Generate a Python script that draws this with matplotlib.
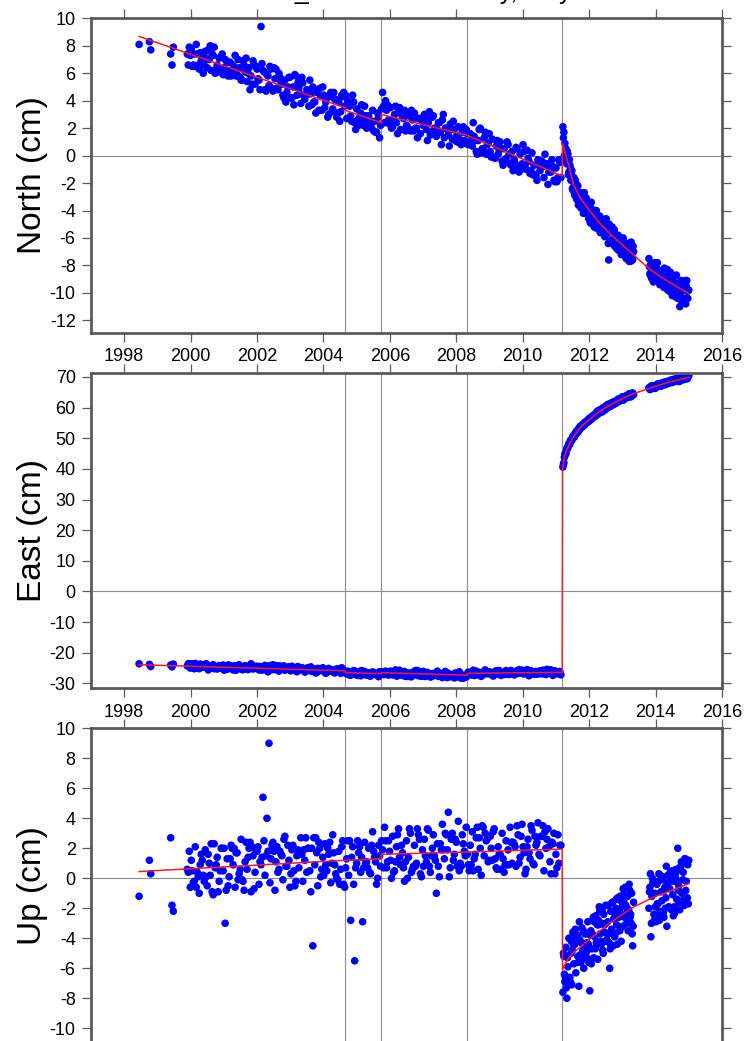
import matplotlib
matplotlib.use("Agg")
import matplotlib.pyplot as plt
from matplotlib.ticker import MultipleLocator, FuncFormatter

plt.rcParams['font.family'] = ['Liberation Sans', 'DejaVu Sans']
plt.rcParams['axes.unicode_minus'] = False

# ---------------- observation epochs (decimal years) ----------------
t_pre = [
    1998.45, 1998.76, 1998.80, 1999.40, 1999.44, 1999.48, 1999.90, 1999.96,
    2000.02, 2000.08, 2000.14, 2000.20, 2000.26, 2000.32, 2000.38, 2000.44, 2000.50,
    2000.56, 2000.62, 2000.68, 2000.74, 2000.80, 2000.86, 2000.92, 2000.98,
    2001.04, 2001.10, 2001.16, 2001.22, 2001.28, 2001.34, 2001.40, 2001.46,
    2001.52, 2001.58, 2001.64, 2001.70, 2001.76, 2001.82, 2001.88, 2001.94,
    2002.00, 2002.06, 2002.12, 2002.18, 2002.24, 2002.30, 2002.36, 2002.42, 2002.48,
    2002.54, 2002.60, 2002.66, 2002.72, 2002.78, 2002.84, 2002.90, 2002.96,
    2003.02, 2003.08, 2003.14, 2003.20, 2003.26, 2003.32, 2003.38, 2003.44, 2003.50,
    2003.56, 2003.62, 2003.68, 2003.74, 2003.80, 2003.86, 2003.92, 2003.98,
    2004.04, 2004.10, 2004.16, 2004.22, 2004.28, 2004.34, 2004.40, 2004.46,
    2004.52, 2004.58, 2004.64, 2004.70, 2004.76, 2004.82, 2004.88, 2004.94,
    2005.00, 2005.06, 2005.12, 2005.18, 2005.24, 2005.30, 2005.36, 2005.42, 2005.48,
    2005.54, 2005.60, 2005.66, 2005.72, 2005.78, 2005.84, 2005.90, 2005.96,
    2006.02, 2006.08, 2006.14, 2006.20, 2006.26, 2006.32, 2006.38, 2006.44, 2006.50,
    2006.56, 2006.62, 2006.68, 2006.74, 2006.80, 2006.86, 2006.92, 2006.98,
    2007.04, 2007.10, 2007.16, 2007.22, 2007.28, 2007.34, 2007.40, 2007.46,
    2007.52, 2007.58, 2007.64, 2007.70, 2007.76, 2007.82, 2007.88, 2007.94,
    2008.00, 2008.06, 2008.12, 2008.18, 2008.24, 2008.30, 2008.36, 2008.42, 2008.48,
    2008.54, 2008.60, 2008.66, 2008.72, 2008.78, 2008.84, 2008.90, 2008.96,
    2009.02, 2009.08, 2009.14, 2009.20, 2009.26, 2009.32, 2009.38, 2009.44, 2009.50,
    2009.56, 2009.62, 2009.68, 2009.74, 2009.80, 2009.86, 2009.92, 2009.98,
    2010.04, 2010.10, 2010.16, 2010.22, 2010.28, 2010.34, 2010.40, 2010.46,
    2010.52, 2010.58, 2010.64, 2010.70, 2010.76, 2010.82, 2010.88, 2010.94,
    2011.00, 2011.06, 2011.12,
]
t_pre_b = [
    1999.93, 1999.99,
    2000.05, 2000.11, 2000.17, 2000.23, 2000.29, 2000.35, 2000.41, 2000.47,
    2000.53, 2000.59, 2000.65, 2000.71, 2000.77, 2000.83, 2000.89, 2000.95,
    2001.01, 2001.07, 2001.13, 2001.19, 2001.25, 2001.31, 2001.37, 2001.43, 2001.49,
    2001.55, 2001.61, 2001.67, 2001.73, 2001.79, 2001.85, 2001.91, 2001.97,
    2002.03, 2002.09, 2002.15, 2002.21, 2002.27, 2002.33, 2002.39, 2002.45, 2002.51,
    2002.57, 2002.63, 2002.69, 2002.75, 2002.81, 2002.87, 2002.93, 2002.99,
    2003.05, 2003.11, 2003.17, 2003.23, 2003.29, 2003.35, 2003.41, 2003.47,
    2003.53, 2003.59, 2003.65, 2003.71, 2003.77, 2003.83, 2003.89, 2003.95,
    2004.01, 2004.07, 2004.13, 2004.19, 2004.25, 2004.31, 2004.37, 2004.43, 2004.49,
    2004.55, 2004.61, 2004.67, 2004.73, 2004.79, 2004.85, 2004.91, 2004.97,
    2005.03, 2005.09, 2005.15, 2005.21, 2005.27, 2005.33, 2005.39, 2005.45, 2005.51,
    2005.57, 2005.63, 2005.69, 2005.75, 2005.81, 2005.87, 2005.93, 2005.99,
    2006.05, 2006.11, 2006.17, 2006.23, 2006.29, 2006.35, 2006.41, 2006.47,
    2006.53, 2006.59, 2006.65, 2006.71, 2006.77, 2006.83, 2006.89, 2006.95,
    2007.01, 2007.07, 2007.13, 2007.19, 2007.25, 2007.31, 2007.37, 2007.43, 2007.49,
    2007.55, 2007.61, 2007.67, 2007.73, 2007.79, 2007.85, 2007.91, 2007.97,
    2008.03, 2008.09, 2008.15, 2008.21, 2008.27, 2008.33, 2008.39, 2008.45, 2008.51,
    2008.57, 2008.63, 2008.69, 2008.75, 2008.81, 2008.87, 2008.93, 2008.99,
    2009.05, 2009.11, 2009.17, 2009.23, 2009.29, 2009.35, 2009.41, 2009.47,
    2009.53, 2009.59, 2009.65, 2009.71, 2009.77, 2009.83, 2009.89, 2009.95,
    2010.01, 2010.07, 2010.13, 2010.19, 2010.25, 2010.31, 2010.37, 2010.43, 2010.49,
    2010.55, 2010.61, 2010.67, 2010.73, 2010.79, 2010.85, 2010.91, 2010.97,
    2011.03, 2011.09, 2011.15,
]
t_post1 = [
    2011.21, 2011.24, 2011.27, 2011.30, 2011.33, 2011.36, 2011.39, 2011.42, 2011.45,
    2011.48, 2011.51, 2011.54, 2011.57, 2011.60, 2011.63, 2011.66, 2011.69, 2011.72,
    2011.75, 2011.78, 2011.81, 2011.84, 2011.87, 2011.90, 2011.93, 2011.96, 2011.99,
    2012.02, 2012.05, 2012.08, 2012.11, 2012.14, 2012.17, 2012.20, 2012.23, 2012.26,
    2012.29, 2012.32, 2012.35, 2012.38, 2012.41, 2012.44, 2012.47, 2012.50, 2012.53,
    2012.56, 2012.59, 2012.62, 2012.65, 2012.68, 2012.71, 2012.74, 2012.77, 2012.80,
    2012.83, 2012.86, 2012.89, 2012.92, 2012.95, 2012.98,
    2013.01, 2013.04, 2013.07, 2013.10, 2013.13, 2013.16, 2013.19, 2013.22, 2013.25,
    2013.28, 2013.31, 2013.34,
]
t_post1_b = [
    2011.225, 2011.255, 2011.285, 2011.315, 2011.345, 2011.375, 2011.405, 2011.435,
    2011.465, 2011.495, 2011.525, 2011.555, 2011.585, 2011.615, 2011.645, 2011.675,
    2011.705, 2011.735, 2011.765, 2011.795, 2011.825, 2011.855, 2011.885, 2011.915,
    2011.945, 2011.975,
    2012.005, 2012.035, 2012.065, 2012.095, 2012.125, 2012.155, 2012.185, 2012.215,
    2012.245, 2012.275, 2012.305, 2012.335, 2012.365, 2012.395, 2012.425, 2012.455,
    2012.485, 2012.515, 2012.545, 2012.575, 2012.605, 2012.635, 2012.665, 2012.695,
    2012.725, 2012.755, 2012.785, 2012.815, 2012.845, 2012.875, 2012.905, 2012.935,
    2012.965, 2012.995,
    2013.025, 2013.055, 2013.085, 2013.115, 2013.145, 2013.175, 2013.205, 2013.235,
    2013.265, 2013.295, 2013.325,
]
t_post2 = [
    2013.80, 2013.83, 2013.86, 2013.89, 2013.92, 2013.95, 2013.98,
    2014.01, 2014.04, 2014.07, 2014.10, 2014.13, 2014.16, 2014.19, 2014.22, 2014.25,
    2014.28, 2014.31, 2014.34, 2014.37, 2014.40, 2014.43, 2014.46, 2014.49, 2014.52,
    2014.55, 2014.58, 2014.61, 2014.64, 2014.67, 2014.70, 2014.73, 2014.76, 2014.79,
    2014.82, 2014.85, 2014.88, 2014.91, 2014.94, 2014.97, 2015.00,
]
t_post2_b = [
    2013.815, 2013.845, 2013.875, 2013.905, 2013.935, 2013.965, 2013.995,
    2014.025, 2014.055, 2014.085, 2014.115, 2014.145, 2014.175, 2014.205, 2014.235,
    2014.265, 2014.295, 2014.325, 2014.355, 2014.385, 2014.415, 2014.445, 2014.475,
    2014.505, 2014.535, 2014.565, 2014.595, 2014.625, 2014.655, 2014.685, 2014.715,
    2014.745, 2014.775, 2014.805, 2014.835, 2014.865, 2014.895, 2014.925, 2014.955,
    2014.985,
]

# ---------------- North component (cm) ----------------
north_pre = [
    8.1, 8.3, 7.7, 7.4, 6.6, 7.9, 7.4, 7.9,
    7.8, 6.6, 6.5, 7.4, 6.3, 6.9, 6.0, 7.6, 6.4, 7.0, 6.2, 7.3, 6.0, 6.6, 7.1, 6.3, 5.9,
    7.0, 6.2, 6.8, 5.8, 6.6, 7.3, 5.9, 6.4, 5.5, 6.9, 6.1, 5.4, 6.4, 5.8, 6.9, 5.2,
    6.3, 5.5, 9.4, 6.2, 4.8, 5.9, 5.1, 6.3, 4.7, 5.6, 4.9, 6.0, 5.3, 4.4, 5.5, 4.6, 5.7,
    4.2, 5.0, 5.9, 4.4, 4.9, 3.8, 5.3, 4.1, 4.8, 3.6, 4.5, 5.0, 3.9, 4.6, 3.3, 4.3, 5.0,
    3.5, 4.2, 3.0, 4.6, 3.4, 4.1, 2.8, 3.9, 3.2, 4.3, 3.6, 2.7, 3.8, 2.9, 4.4, 2.4,
    3.4, 2.2, 3.1, 2.6, 3.6, 2.0, 2.9, 2.3, 3.3, 2.5, 1.7, 2.8, 2.2, 4.6, 2.4, 3.3, 2.6,
    3.5, 2.1, 3.0, 2.4, 3.4, 1.9, 2.8, 3.3, 2.2, 2.9, 1.8, 2.6, 3.1, 2.0, 2.7, 1.6, 2.5,
    3.0, 1.9, 2.4, 1.5, 2.8, 2.0, 1.4, 2.4, 1.7, 2.6, 1.3, 2.0, 1.5, 2.3, 1.2, 1.9,
    1.4, 2.1, 0.9, 1.7, 1.1, 1.9, 0.8, 1.6, 0.7, 1.4, 0.3, 1.1, 2.0, 0.5, 1.3, 0.1, 0.9,
    0.3, 1.2, -0.1, 0.7, 0.1, 1.0, -0.4, 0.5, -0.2, 0.8, -0.6, 0.3, -0.3, 0.6, -0.9, 0.1, -0.6,
    0.3, -1.0, -0.2, -1.3, 0.2, -0.7, -1.5, -0.3, -1.1, -0.4, -1.6, -0.6, -2.1, -1.0, -0.3, -1.8,
    -0.9, -1.6, -0.5,
]
north_pre_b = [
    6.6, 7.3,
    6.5, 7.4, 8.1, 6.6, 7.5, 7.2, 6.6, 7.1, 7.7, 8.0, 7.4, 7.9, 6.3, 6.1, 6.2, 7.4,
    6.4, 6.9, 5.8, 6.8, 6.2, 5.9, 5.8, 7.0, 5.7, 5.5, 6.6, 7.1, 6.0, 4.8, 5.2, 6.6, 6.5,
    5.6, 4.8, 6.7, 6.1, 4.7, 5.8, 6.5, 4.9, 6.4, 6.3, 4.8, 5.7, 5.2, 4.2, 3.9, 5.0, 5.7,
    4.2, 3.7, 5.8, 5.3, 4.5, 5.7, 4.4, 4.4, 4.5, 5.5, 3.7, 3.9, 3.1, 4.8, 4.9, 3.3,
    4.4, 3.9, 2.8, 4.3, 3.2, 4.6, 4.1, 3.1, 2.5, 4.4, 4.6, 4.4, 4.0, 3.6, 2.5, 3.9, 1.9,
    2.6, 2.8, 3.7, 2.2, 2.9, 2.3, 2.6, 2.0, 1.8, 1.7, 3.1, 1.3, 3.4, 3.6, 4.0, 3.7, 2.3,
    2.0, 2.7, 3.6, 1.6, 3.5, 3.0, 2.7, 1.8, 2.1, 1.9, 3.3, 1.8, 2.0, 1.3, 2.7, 2.7,
    2.2, 2.8, 1.1, 3.2, 1.7, 2.9, 1.9, 1.9, 2.4, 0.8, 3.0, 2.0, 1.9, 0.7, 1.9, 2.5, 1.1,
    1.0, 1.2, 0.8, 2.1, 0.9, 1.6, 1.0, 1.5, 2.4, 1.1, 0.1, 1.9, 0.2, 0.4, 1.7, 0.8, 1.6,
    -0.1, -0.1, -0.2, 1.1, 0.4, 0.5, -0.7, -0.3, 1.0, 0.1, -0.7, -1.1, -0.6, 0.5, -1.2, -1.0,
    0.8, -0.7, 0.4, -0.4, -1.1, -1.4, -1.4, -1.8, -0.7, -0.7, -0.8, 0.1, -0.6, -1.2, -1.2,
    -0.8, -1.9,
    -1.9, -0.3, -1.6,
]
north_post1 = [
    2.1, 1.7, 0.9, 0.5, -0.6, 0.1, -1.2, -0.7, -1.8, -1.1, -2.5, -1.6, -2.9, -2.0,
    -3.2, -2.2, -3.4, -2.7, -3.8, -2.9, -3.6, -3.0, -4.2, -3.3, -4.0, -3.4, -4.6,
    -3.7, -4.5, -3.9, -5.0, -4.1, -4.9, -4.2, -5.3, -4.5, -5.1, -4.4, -5.6, -4.8,
    -5.4, -4.7, -5.9, -5.0, -5.7, -5.2, -7.6, -5.3, -6.2, -5.5, -6.4, -5.4, -6.6,
    -5.8, -6.5, -5.9, -6.9, -6.0, -7.0, -6.2,
    -7.2, -6.3, -7.0, -6.4, -7.5, -6.6, -7.3, -6.7, -7.7, -6.9, -7.6, -7.0,
]
north_post1_b = [
    1.3, 0.0, -0.4, -0.2, 0.3, -1.4, -0.3, -0.9, -1.4, -2.4, -2.3, -2.7, -1.8, -3.0,
    -2.9, -3.6, -2.7, -2.8, -3.3, -2.8, -4.2, -2.7, -3.8, -3.1, -3.9, -4.0,
    -3.7, -4.9, -3.4, -4.1, -4.2, -5.2, -4.4, -4.0, -5.1, -5.2, -5.1, -5.6, -4.6, -5.6,
    -5.1, -5.5, -5.2, -4.6, -5.6, -6.4, -5.0, -6.3, -6.2, -5.2, -6.0, -5.4, -6.6, -6.7,
    -6.8, -5.8, -6.4, -6.3, -7.2, -6.9,
    -6.0, -6.7, -7.3, -7.5, -7.3, -6.4, -7.7, -7.6, -6.3, -7.4, -6.6,
]
north_post2 = [
    -7.5, -8.6, -7.9, -8.9, -8.0, -8.8, -7.8,
    -9.1, -8.2, -9.0, -8.4, -9.4, -8.5, -9.3, -8.6, -9.6, -8.7, -9.5, -8.9, -9.8,
    -9.0, -9.9, -9.1, -10.0, -9.2, -10.1, -9.4, -10.3, -9.5, -10.4, -9.3, -11.0,
    -9.6, -10.6, -9.2, -10.5, -9.7, -10.8, -9.1, -10.4, -9.8,
]
north_post2_b = [
    -8.1, -8.7, -8.9, -9.0, -9.2, -8.4, -8.4,
    -8.5, -7.8, -8.4, -8.8, -8.9, -8.6, -9.3, -9.4, -8.2, -9.1, -8.5, -8.3, -9.1,
    -9.3, -8.5, -9.6, -10.2, -9.6, -8.8, -10.1, -8.7, -9.3, -9.7, -9.8, -10.1,
    -9.1, -9.2, -10.4, -10.7, -9.1, -9.5, -9.9, -9.8,
]

# ---------------- East component (cm) ----------------
east_pre = [
    -23.6, -23.8, -24.5, -24.0, -24.6, -23.7, -24.3, -23.6,
    -24.0, -24.9, -23.5, -24.6, -25.2, -24.1, -24.7, -23.8, -25.0, -24.3, -24.9, -23.9,
    -24.5, -25.3, -24.2, -24.8, -24.0,
    -24.5, -25.4, -24.1, -24.8, -25.6, -24.3, -25.0, -23.9, -24.7, -25.5, -24.2, -25.1,
    -24.6, -23.6, -25.3, -24.8,
    -24.4, -25.6, -24.9, -25.3, -24.1, -25.8, -24.7, -25.2, -23.9, -25.5, -24.8, -26.0,
    -25.0, -24.5, -25.7, -25.1, -24.6,
    -25.9, -24.9, -25.4, -26.2, -24.8, -25.6, -25.1, -26.3, -25.0, -25.7, -24.6, -25.9,
    -25.3, -26.4, -25.2, -25.8, -24.9,
    -25.5, -26.3, -25.1, -26.0, -25.6, -26.6, -25.3, -25.9, -26.7, -25.4, -26.1,
    -26.9, -26.2, -27.3, -26.5, -26.0,
    -27.1, -26.4, -27.5, -26.7, -26.1, -27.2, -26.6, -27.6, -26.3, -27.0, -26.8, -27.8,
    -26.5, -26.2, -27.1, -26.6, -27.3,
    -26.0, -27.2, -26.5, -27.6, -26.3, -26.9, -27.4, -26.1, -27.0, -26.6, -27.8, -26.4,
    -27.2, -26.8, -27.5, -26.3, -27.0,
    -27.6, -26.5, -27.2, -27.9, -26.8, -27.4, -26.6, -27.7, -27.1, -28.1, -26.9, -27.5,
    -26.7, -27.8, -27.3, -28.2,
    -27.0, -27.8, -26.8, -28.3, -27.4, -27.9, -26.3, -27.1, -26.6, -27.4, -26.0, -26.8,
    -27.2, -26.4, -27.0, -26.2, -26.9,
    -26.3, -27.1, -26.5, -25.9, -26.8, -26.2, -27.0, -26.4, -25.8, -26.9, -26.1, -26.6,
    -27.2, -26.0, -26.7, -26.3, -25.7,
    -26.9, -26.2, -26.7, -25.8, -26.5, -27.0, -26.1, -26.6, -25.9, -26.8, -26.3, -27.1,
    -26.0, -26.6, -26.2, -26.9,
    -26.4, -26.9, -26.1,
]
east_pre_b = [
    -23.6, -25.0,
    -23.6, -25.2, -23.7, -25.0, -23.7, -24.6, -24.4, -23.6, -25.6, -24.7, -24.5, -25.2,
    -25.0, -24.6, -25.0, -24.4,
    -25.7, -25.3, -24.0, -24.2, -24.9, -24.3, -25.7, -25.2, -24.8, -25.5, -24.6, -24.7,
    -25.5, -25.1, -24.0, -24.5, -24.5,
    -25.0, -24.5, -25.7, -25.2, -24.6, -26.2, -24.2, -25.5, -24.9, -24.2, -24.3, -24.3,
    -25.2, -24.3, -25.2, -24.8, -25.5,
    -24.4, -25.1, -25.1, -24.5, -25.2, -24.9, -25.2, -26.1, -25.0, -25.0, -26.1, -25.7,
    -26.6, -25.1, -25.4, -25.4,
    -26.0, -26.7, -26.0, -25.7, -26.1, -25.7, -25.9, -25.3, -25.8, -24.9, -26.0,
    -26.4, -26.0, -27.3, -26.9, -25.8, -27.1,
    -27.4, -26.1, -25.8, -26.6, -27.2, -26.6, -27.5, -26.4, -26.4, -26.9, -27.3, -26.2,
    -26.6, -27.1, -26.0, -26.7, -26.3,
    -26.3, -26.9, -25.6, -27.5, -25.7, -27.0, -27.3, -27.7, -27.7, -27.1, -27.8, -26.7,
    -25.8, -25.8, -27.4, -27.7,
    -26.1, -27.7, -26.4, -27.1, -27.8, -27.3, -26.9, -26.0, -26.7, -26.8, -27.6, -26.1,
    -28.1, -27.2, -27.5, -27.1, -26.6,
    -27.8, -26.2, -28.3, -28.3, -27.6, -27.0, -26.8, -27.2, -25.7, -26.6, -27.2, -26.4,
    -27.7, -26.6, -25.6, -26.5, -26.3,
    -26.9, -27.6, -26.1, -26.9, -25.8, -27.4, -26.9, -27.1, -26.9, -27.1, -25.8, -26.3,
    -27.1, -26.0, -25.5, -26.6,
    -26.8, -26.6, -25.5, -27.5, -25.9, -26.2, -26.8, -27.0, -26.8, -26.8, -25.7, -27.0,
    -25.4, -25.6, -25.6, -27.4, -25.9,
    -26.3, -26.7, -27.2,
]
east_post1 = [
    40.6, 42.0, 44.9, 45.0, 46.7, 47.0, 48.2, 48.0, 49.4, 49.3, 50.6, 50.5, 51.5, 51.2,
    52.4, 52.1, 53.2, 52.9, 54.0, 53.6, 54.6, 54.2, 55.2, 54.8, 55.7, 55.3, 56.3,
    55.8, 56.8, 56.3, 57.3, 56.9, 57.8, 57.3, 58.4, 57.9, 58.9, 58.4, 59.3, 58.8,
    59.9, 59.3, 60.3, 59.7, 60.6, 60.0, 61.0, 60.4, 61.3, 60.8, 61.7, 61.1, 62.0,
    61.4, 62.3, 61.8, 62.7, 62.1, 63.0, 62.5,
    63.3, 62.8, 63.6, 63.0, 63.9, 63.4, 64.2, 63.7, 64.6, 64.0, 64.8, 64.3,
]
east_post1_b = [
    41.5, 43.8, 44.7, 46.0, 46.6, 47.8, 48.2, 49.3, 49.3, 50.0, 50.8, 50.4, 51.1, 52.3,
    51.9, 52.2, 53.4, 53.9, 53.9, 53.8, 54.5, 54.3, 55.2, 55.4, 55.5, 55.5,
    56.4, 56.3, 56.3, 57.2, 57.1, 57.6, 57.8, 57.7, 58.8, 58.0, 59.2, 58.6, 58.7, 58.6,
    58.9, 59.5, 59.3, 60.2, 60.9, 61.1, 60.3, 60.4, 61.5, 60.8, 61.8, 61.5, 61.3, 61.7,
    62.1, 62.8, 62.6, 62.7, 62.4, 63.5,
    62.4, 63.2, 63.1, 63.6, 64.0, 63.5, 64.5, 63.5, 63.6, 64.1, 64.3,
]
east_post2 = [
    66.5, 65.9, 66.8, 66.2, 67.0, 66.4, 67.1,
    66.6, 67.4, 66.9, 67.7, 67.1, 67.9, 67.3, 68.1, 67.5, 68.3, 67.8, 68.5, 68.0,
    68.7, 68.2, 68.9, 68.4, 69.1, 68.5, 69.2, 68.7, 69.4, 68.9, 69.6, 69.0, 69.8,
    69.2, 70.0, 69.4, 70.3, 69.6, 70.5, 69.8, 70.4,
]
east_post2_b = [
    66.3, 66.1, 67.1, 66.7, 66.4, 67.0, 66.3,
    67.1, 67.7, 67.3, 67.6, 67.3, 67.0, 68.0, 67.6, 68.3, 67.5, 67.9, 67.8, 68.1,
    68.0, 68.9, 68.7, 68.2, 69.0, 69.3, 68.8, 68.7, 68.9, 69.7, 68.5, 69.6, 69.5,
    69.2, 69.1, 69.3, 69.4, 70.2, 69.4, 70.5,
]

# ---------------- Up component (cm) ----------------
up_pre = [
    -1.2, 1.2, 0.3, 2.7, -1.8, -2.2, 0.6, 1.8,
    1.2, -0.3, 2.1, 0.4, -1.0, 1.6, 0.2, 1.9, -0.5, 1.0, 2.3, -1.1, 0.7, 1.4, -0.2, 2.0, 0.5,
    -3.0, 1.3, 0.1, 2.2, 0.9, -0.6, 1.7, 0.3, 2.6, -0.2, 1.1, 0.6, 2.0, -0.9, 1.5, 0.4,
    1.8, -0.4, 0.9, 5.4, 0.2, 4.0, 9.0, 1.3, 2.4, -0.8, 2.1, 0.6, 1.6, -0.1, 2.8, 0.8, 1.2,
    0.3, 2.2, -0.5, 1.5, 0.7, 2.7, -0.2, 1.2, 0.4, 2.0, -0.9, -4.5, 0.9, 1.7, 2.4, 0.1, 1.4,
    2.3, 0.5, 1.6, -0.3, 2.9, 0.9, 0.0, 1.8, 0.6, 2.5, -0.6, 1.3, 0.2, -2.8, 2.1, -5.5,
    1.0, 1.7, 0.4, -2.9, 2.4, 1.1, 2.0, 0.3, 3.1, 1.4, -0.4, 2.2, 0.8, 1.9, 3.4, 0.7, 2.5,
    1.2, 2.8, 0.5, 2.1, 3.3, 0.9, 1.7, -0.2, 2.5, 1.4, 3.0, 0.6, 2.2, 1.0, 2.9, 0.3, 1.9,
    2.6, 1.1, 3.2, 0.4, 2.0, 1.5, -1.0, 0.8, 2.3, 3.6, 1.3, 2.9, 4.4, 0.7, 3.0, 1.6,
    2.4, 3.8, 1.0, 2.9, 1.8, 3.4, 0.9, 2.2, 3.1, 1.3, 2.7, 0.6, 2.0, 3.5, 1.5, 2.5, 1.1,
    2.8, 1.2, 3.3, 0.7, 2.1, 1.6, 3.0, 0.4, 2.5, 1.9, 3.4, 1.0, 2.3, 0.8, 2.9, 1.4, 3.6,
    1.7, 0.6, 2.6, 1.3, 3.2, 0.9, 2.2, 3.7, 1.5, 2.8, 0.5, 2.0, 3.3, 1.1, 2.4, 3.0,
    1.6, 2.9, 2.2,
]
up_pre_b = [
    0.4, -0.6,
    0.5, -0.2, -0.6, 0.1, 0.9, 1.2, -0.2, 0.1, 1.6, 0.2, -0.9, 2.3, 0.9, -0.9, 0.5, 2.0,
    2.0, -0.8, -0.5, 1.3, 2.0, 2.0, 1.7, -0.1, 0.6, -0.1, -0.8, 2.4, 1.4, 2.4, 2.1, -0.7, 1.8,
    2.1, 1.1, 1.4, 2.5, 1.5, 1.8, -0.3, 2.2, 1.8, 1.1, 0.4, 1.8, 1.5, 2.6, 0.8, 2.2, -0.6,
    1.9, 0.5, -0.2, 1.9, 1.6, 1.6, 1.9, 2.7, 2.0, 0.5, 2.0, 2.7, 2.7, -0.5, 2.0, 0.6,
    0.2, 0.9, 2.0, 2.4, 1.0, 1.7, 0.3, -0.1, -0.4, 2.1, -0.4, 0.7, 2.5, 2.5, 1.4, -0.4, 0.7,
    2.5, 2.1, 1.4, 0.7, 1.0, 0.7, 0.4, 2.2, 1.8, 1.1, 0.0, 1.5, 2.5, 0.7, 2.5, 1.1, 1.8,
    0.0, 0.4, 1.1, 2.9, 1.4, 2.2, 0.7, 1.1, 0.0, 3.3, 0.4, 0.8, 0.8, 3.3, 2.6, 0.1,
    0.8, 1.5, 3.3, 0.8, 1.5, 2.9, 1.2, 2.3, 0.1, 1.9, 1.9, 3.0, 1.9, 0.1, 2.6, 1.2, 2.6,
    0.8, 0.5, 0.8, 2.3, 1.5, 1.6, 0.5, 0.9, 0.5, 1.6, 3.4, 2.7, 0.2, 3.4, 3.0, 2.6, 1.2,
    2.0, 3.1, 1.3, 0.6, 1.6, 0.6, 1.3, 0.9, 0.9, 0.9, 2.4, 2.4, 2.1, 3.5, 1.0, 2.8,
    2.1, 0.3, 2.1, 1.7, 3.5, 1.0, 2.8, 2.4, 1.6, 2.8, 3.5, 3.1, 2.6, 2.1, 0.3, 2.3, 0.3,
    0.7, 1.0, 2.2,
]
up_post1 = [
    -7.6, -5.2, -6.9, -4.6, -8.0, -5.9, -4.0, -6.6, -5.0, -7.1, -3.6, -5.7, -4.4, -6.3,
    -3.9, -5.2, -7.2, -4.1, -5.6, -3.3, -4.8, -6.0, -3.7, -5.1, -4.3, -2.9, -5.6,
    -7.5, -3.5, -4.7, -2.8, -5.3, -3.9, -2.5, -4.4, -5.4, -3.1, -2.2, -4.2, -3.0, -4.8,
    -2.4, -3.6, -1.8, -4.1, -2.9, -3.7, -6.0, -2.2, -3.4, -1.6, -2.7, -3.9, -2.0, -3.1,
    -1.3, -2.6, -3.5, -1.5, -2.4,
    -3.2, -1.1, -2.6, -1.8, -3.0, -1.2, -2.1, -0.8, -2.4, -1.0, -4.5, -1.6,
]
up_post1_b = [
    -5.0, -6.4, -6.6, -7.3, -5.3, -7.1, -4.0, -6.9, -4.2, -4.8, -4.4, -3.6, -3.4, -3.9,
    -3.8, -5.6, -2.9, -5.1, -4.3, -5.4, -3.5, -4.6, -4.5, -3.7, -4.8, -4.4,
    -5.4, -3.8, -5.7, -3.7, -2.6, -2.9, -4.7, -4.3, -3.1, -2.8, -1.9, -3.7, -4.4, -2.1,
    -5.0, -3.1, -4.2, -3.0, -3.7, -1.8, -4.3, -4.7, -3.5, -1.6, -4.5, -2.3, -3.7, -1.4,
    -4.4, -2.4, -2.1, -1.2, -4.2, -1.9,
    -0.7, -1.4, -0.6, -2.4, -2.0, -3.5, -0.4, -2.6, -3.0, -3.7, -3.2,
]
up_post2 = [
    -2.0, -0.6, -3.9, -1.2, -0.3, -2.4, -1.0,
    -2.9, -0.4, -1.7, 0.3, -2.2, -0.9, -1.5, 0.1, -2.6, -0.6, -1.3, -3.2, 0.2, -1.9,
    -0.7, -2.0, 0.4, -1.1, -0.2, -2.3, 0.6, -1.4, 2.0, -0.5, -2.1, 0.8, -1.0, -0.1,
    -1.8, 1.3, -0.8, -1.6, 0.9, 1.2,
]
up_post2_b = [
    -0.9, 0.3, -3.0, 0.0, -0.3, -2.8, -1.9,
    -2.5, -1.7, -0.2, -2.8, 0.2, -2.4, -0.1, -2.3, -0.8, -2.0, 0.8, -0.4, -0.3, 0.1,
    0.4, -2.1, 0.5, -2.5, -1.9, 0.2, -0.1, 0.5, -0.8, -1.6, 0.7, 1.1, -1.5, 0.4,
    -1.8, 1.3, -0.2, -1.3, -1.7,
]

# ---------------- trajectory model (red curves) ----------------
north_fit_t = [1998.45, 2004.66, 2004.66, 2005.74, 2005.74, 2008.33, 2011.19, 2011.20,
               2011.38, 2011.53, 2011.63, 2011.73, 2011.88, 2012.03, 2012.18, 2012.33,
               2012.53, 2012.75, 2013.00, 2013.35, 2013.60, 2013.85, 2014.10, 2014.40,
               2014.70, 2015.00]
north_fit_v = [8.68, 3.48, 3.30, 2.40, 3.00, 1.48, -1.49, 0.90,
               -0.65, -2.10, -2.62, -3.05, -3.58, -4.05, -4.52, -4.95,
               -5.45, -5.97, -6.50, -7.25, -7.80, -8.30, -8.75, -9.20,
               -9.63, -10.05]
east_fit_t = [1998.45, 2004.66, 2004.66, 2005.74, 2005.74, 2008.33, 2008.33, 2011.19,
              2011.20, 2011.25, 2011.30, 2011.40, 2011.50, 2011.65, 2011.80, 2012.00,
              2012.25, 2012.50, 2012.75, 2013.00, 2013.35, 2013.60, 2013.85, 2014.10,
              2014.40, 2014.70, 2015.00]
east_fit_v = [-23.9, -25.9, -26.5, -26.8, -26.5, -27.3, -26.7, -26.4,
              39.8, 43.5, 45.5, 48.0, 50.0, 52.3, 54.2, 56.0,
              58.2, 60.0, 61.5, 62.9, 64.6, 65.5, 66.4, 67.3,
              68.3, 69.1, 69.9]
up_fit_t = [1998.45, 2004.66, 2005.74, 2005.74, 2008.33, 2011.19, 2011.20, 2011.30,
            2011.50, 2012.00, 2012.50, 2013.00, 2013.35, 2014.00, 2014.50, 2015.00]
up_fit_v = [0.45, 1.20, 1.30, 1.60, 1.75, 1.95, -6.10, -5.60,
            -5.00, -4.10, -3.20, -2.40, -1.90, -1.20, -0.80, -0.35]

# epochs of equipment changes / earthquake
break_epochs = [2004.66, 2005.74, 2008.33, 2011.19]

year_ticks = [1998, 2000, 2002, 2004, 2006, 2008, 2010, 2012, 2014, 2016]

t_all = t_pre + t_pre_b + t_post1 + t_post1_b + t_post2 + t_post2_b
panels = [
    ("North (cm)",
     north_pre + north_pre_b + north_post1 + north_post1_b + north_post2 + north_post2_b,
     north_fit_t, north_fit_v, (-12.9, 10.0), 2, [0.1221, 0.6804, 0.8470, 0.3020], True),
    ("East (cm)",
     east_pre + east_pre_b + east_post1 + east_post1_b + east_post2 + east_post2_b,
     east_fit_t, east_fit_v, (-31.6, 71.2), 10, [0.1221, 0.3388, 0.8470, 0.3026], True),
    ("Up (cm)",
     up_pre + up_pre_b + up_post1 + up_post1_b + up_post2 + up_post2_b,
     up_fit_t, up_fit_v, (-11.0, 10.0), 2, [0.1221, -0.0022, 0.8470, 0.3026], False),
]

fig = plt.figure(figsize=(7.45, 10.41), dpi=100)
frame_col = "#5a5a5a"

for label, vals, ft, fv, ylim, ystep, pos, show_years in panels:
    ax = fig.add_axes(pos)
    ax.set_xlim(1997.0, 2016.0)
    ax.set_ylim(*ylim)
    for tb in break_epochs:
        ax.axvline(tb, color="#8c8c8c", lw=0.8, zorder=1)
    ax.axhline(0, color="#8c8c8c", lw=0.8, zorder=1)
    ax.scatter(t_all, vals, s=30, color="#0000ff", edgecolors="none", zorder=2)
    ax.plot(ft, fv, color="#ff1a1a", lw=1.1, zorder=3)

    ax.set_xticks(year_ticks)
    ax.yaxis.set_major_locator(MultipleLocator(ystep))
    ax.yaxis.set_major_formatter(FuncFormatter(lambda v, p: f"{v:.0f}"))
    ax.tick_params(direction="out", top=True, right=True, labeltop=False,
                   labelright=False, labelbottom=show_years, length=6.5, width=0.9,
                   color=frame_col, labelsize=13, pad=4.5)
    for sp in ax.spines.values():
        sp.set_color(frame_col)
        sp.set_linewidth(2.0)
    ax.set_ylabel(label, fontsize=24)
    ax.yaxis.set_label_coords(-0.068, 0.5)

# station title sits just above the top edge of the sheet
fig.text(0.558, 1 + 0.5 / 1041, "0550_GEONET F3 Daily, 16 yrs", fontsize=18,
         ha="center", va="baseline")

fig.savefig("out.png", dpi=100)
